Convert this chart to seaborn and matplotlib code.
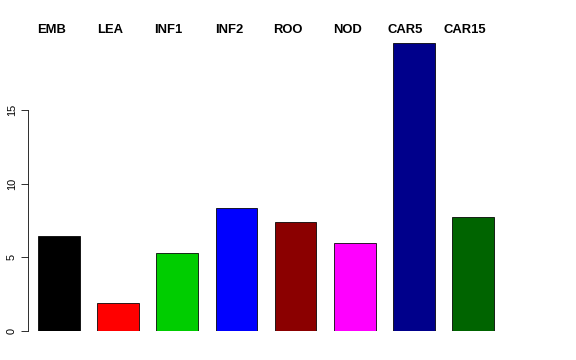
import matplotlib
matplotlib.use("Agg")
import matplotlib.pyplot as plt
import seaborn as sns
import pandas as pd

# tissue values
tissues = ["EMB", "LEA", "INF1", "INF2", "ROO", "NOD", "CAR5", "CAR15"]
values = [6.45, 1.9, 5.3, 8.35, 7.4, 5.95, 19.55, 7.72]
colors = ["#000000", "#FF0000", "#00CD00", "#0000FF",
          "#8B0000", "#FF00FF", "#00008B", "#006400"]
yticks = [0, 5, 10, 15]

df = pd.DataFrame({"tissue": tissues, "value": values})

sns.set_style("white")
plt.rcParams["font.family"] = ["Liberation Sans", "DejaVu Sans"]
plt.rcParams["text.color"] = "black"
plt.rcParams["ytick.color"] = "black"

fig = plt.figure(figsize=(8, 5), dpi=72)
ax = fig.add_axes([28 / 576, 29 / 360, (504 - 28) / 576, (331 - 31) / 360])

sns.barplot(data=df, x="tissue", y="value", hue="tissue", palette=colors,
            legend=False, width=0.7, edgecolor="black", linewidth=0.8,
            saturation=1, ax=ax)

ax.set_xlim(-0.52, 7.52)
ax.set_ylim(0, 300 / 14.73)
ax.set_xlabel("")
ax.set_ylabel("")
ax.set_xticks([])
ax.set_yticks(yticks)
ax.set_yticklabels([str(t) for t in yticks], rotation=90, va="center",
                   fontsize=11, color="black")
ax.tick_params(axis="y", direction="out", length=7, width=0.8, left=True,
               pad=4, colors="black")

for side in ["top", "right", "bottom"]:
    ax.spines[side].set_visible(False)
ax.spines["left"].set_bounds(0, 15)
ax.spines["left"].set_linewidth(0.8)
ax.spines["left"].set_color("black")

# labels above the plot, left-aligned near each bar
label_x = [37, 97, 154, 215, 273, 333, 388, 443]
for lx, name in zip(label_x, tissues):
    fig.text(lx / 576, 1 - 30 / 360, name, ha="left", va="center",
             fontsize=13, fontweight="bold", color="black")

fig.savefig("out.png", dpi=72)
